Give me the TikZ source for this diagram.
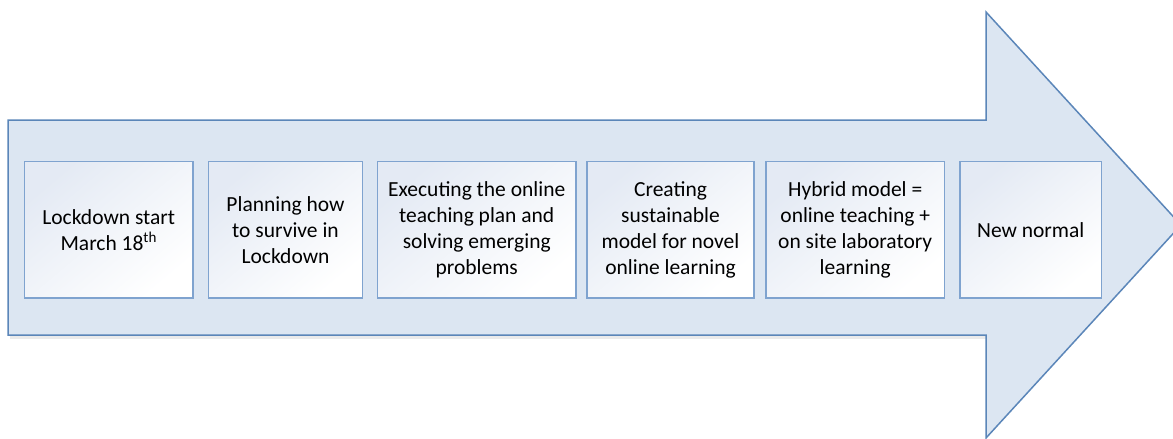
\documentclass[tikz,border=0pt]{standalone}
\usepackage{fontspec}
\setmainfont{Carlito}
\begin{document}
\begin{tikzpicture}[x=1pt,y=-1pt,
  arrowfill/.style={fill=arrowblue, draw=arrowline, line width=1.5pt, line join=miter},
  stagebox/.style={draw=boxline, line width=1.5pt, shading=axis,
    top color=boxtop, bottom color=white, shading angle=40,
    minimum height=136.5pt, inner sep=0pt, align=center,
    font=\fontsize{21.5}{26}\selectfont, text=black}]
\definecolor{arrowblue}{HTML}{DCE6F2}
\definecolor{arrowline}{HTML}{5B86B9}
\definecolor{boxline}{HTML}{7FA3CF}
\definecolor{boxtop}{HTML}{E4EAF4}
\useasboundingbox (0,0) rectangle (1173,439);
\begin{scope}
\clip (0,0) rectangle (1173,439);
% faint shadow under the arrow body
\fill[black!8] (10,335) -- (986,335) -- (986,339) -- (10,339) -- cycle;
% the big timeline arrow
\draw[arrowfill] (8,120) -- (986,120) -- (986,12) -- (1181,225) -- (986,438)
  -- (986,335) -- (8,335) -- cycle;
\end{scope}
% stage boxes with their labels
\node[stagebox, minimum width=168.5pt] (s1) at (108.75,229.75)
  {Lockdown start\\March 18\textsuperscript{th}};
\node[stagebox, minimum width=154pt] (s2) at (285.5,229.75)
  {Planning how\\to survive in\\Lockdown};
\node[stagebox, minimum width=198.5pt] (s3) at (476.75,229.75)
  {Executing the online\\teaching plan and\\solving emerging\\problems};
\node[stagebox, minimum width=167pt] (s4) at (670.5,229.75)
  {Creating\\sustainable\\model for novel\\online learning};
\node[stagebox, minimum width=178.5pt] (s5) at (855.25,229.75)
  {Hybrid model =\\online teaching +\\on site laboratory\\learning};
\node[stagebox, minimum width=141.5pt] (s6) at (1030.75,229.75)
  {New normal};
\end{tikzpicture}
\end{document}
